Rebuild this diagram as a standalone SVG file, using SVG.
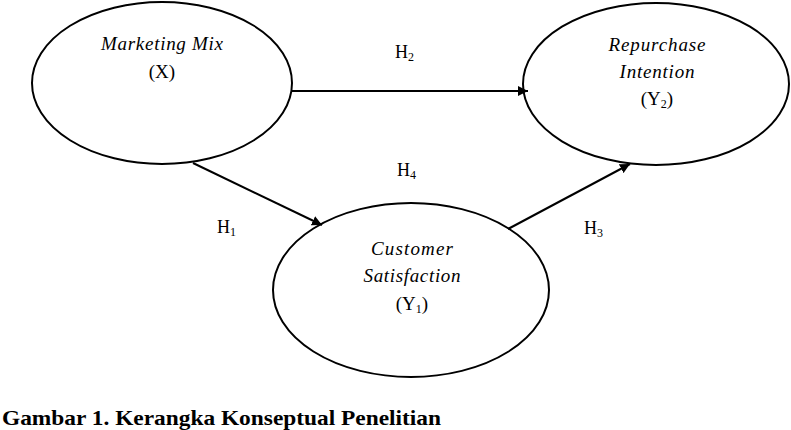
<svg xmlns="http://www.w3.org/2000/svg" width="791" height="430" viewBox="0 0 791 430">
<defs>
<marker id="arr" viewBox="0 0 10 10" refX="10" refY="5" markerWidth="10" markerHeight="10" markerUnits="userSpaceOnUse" orient="auto">
<path d="M0,0 L10,5 L0,10 z" fill="#000"/>
</marker>
</defs>
<style>
.node ellipse{fill:#fff;stroke:#000;stroke-width:2}
.it{font-family:"Liberation Serif","Times New Roman",serif;font-style:italic;font-size:19px;fill:#000;text-anchor:middle}
.rm{font-family:"Liberation Serif","Times New Roman",serif;font-size:19px;fill:#000;text-anchor:middle}
.lbl{font-family:"Liberation Serif","Times New Roman",serif;font-size:18px;fill:#000}
.sub{font-size:12px}
.conn line{stroke:#000;stroke-width:2;marker-end:url(#arr)}
.cap{font-family:"Liberation Serif","Times New Roman",serif;font-weight:bold;font-size:22px;fill:#000}
</style>
<g id="node-x" class="node">
<ellipse cx="162" cy="83" rx="130" ry="81"/>
<text class="it" x="162" y="50" textLength="122" lengthAdjust="spacing">Marketing Mix</text>
<text class="rm" x="162" y="78">(X)</text>
</g>
<g id="node-y2" class="node">
<ellipse cx="656" cy="84" rx="133" ry="81"/>
<text class="it" x="657" y="51" textLength="97" lengthAdjust="spacing">Repurchase</text>
<text class="it" x="657" y="78" textLength="75" lengthAdjust="spacing">Intention</text>
<text class="rm" x="657" y="105">(Y<tspan class="sub" dy="3">2</tspan><tspan dy="-3">)</tspan></text>
</g>
<g id="node-y1" class="node">
<ellipse cx="411" cy="290" rx="138" ry="87"/>
<text class="it" x="412" y="255" textLength="82" lengthAdjust="spacing">Customer</text>
<text class="it" x="412" y="282" textLength="97" lengthAdjust="spacing">Satisfaction</text>
<text class="rm" x="412" y="310">(Y<tspan class="sub" dy="3">1</tspan><tspan dy="-3">)</tspan></text>
</g>
<g id="connectors" class="conn">
<line x1="292" y1="91" x2="528" y2="91"/>
<line x1="193" y1="163" x2="322" y2="225"/>
<line x1="508" y1="229" x2="630" y2="164"/>
</g>
<g id="labels">
<text class="lbl" x="395" y="58">H<tspan class="sub" dy="3">2</tspan></text>
<text class="lbl" x="397" y="176">H<tspan class="sub" dy="3">4</tspan></text>
<text class="lbl" x="217" y="233">H<tspan class="sub" dy="3">1</tspan></text>
<text class="lbl" x="584" y="234">H<tspan class="sub" dy="3">3</tspan></text>
</g>
<text class="cap" x="2" y="425" textLength="439" lengthAdjust="spacingAndGlyphs">Gambar 1. Kerangka Konseptual Penelitian</text>
</svg>
